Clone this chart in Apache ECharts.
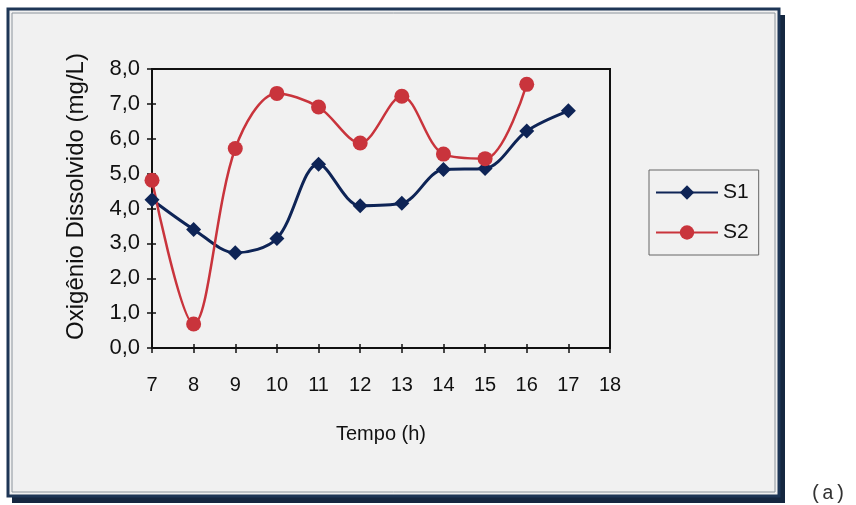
<!DOCTYPE html>
<html>
<head>
<meta charset="utf-8">
<script src="https://cdn.jsdelivr.net/npm/echarts@6/dist/echarts.min.js"></script>
<style>
html,body{margin:0;padding:0;background:#fff;}
#c{width:856px;height:505px;}
</style>
</head>
<body>
<div id="c"></div>
<script>
const hours = [7, 8, 9, 10, 11, 12, 13, 14, 15, 16, 17];
const s1 = [4.25, 3.40, 2.73, 3.14, 5.27, 4.08, 4.15, 5.12, 5.15, 6.22, 6.80];
const s2 = [4.81, 0.69, 5.72, 7.30, 6.91, 5.88, 7.22, 5.56, 5.43, 7.56];
const seriesNames = ['S1', 'S2'];
const xTitle = 'Tempo (h)';
const yTitle = 'Oxigênio Dissolvido (mg/L)';

const font = 'Liberation Sans, Arial, sans-serif';
const pairs = (vals) => vals.map((v, i) => [hours[i], v]);

const chart = echarts.init(document.getElementById('c'), null, {renderer: 'canvas'});
const xBase = {
  type: 'value', min: 7, max: 18, interval: 1, gridIndex: 0,
  splitLine: {show: false},
  axisLine: {show: true, lineStyle: {color: '#111', width: 2}}
};
const yBase = {
  type: 'value', min: 0, max: 8, interval: 1, gridIndex: 0,
  splitLine: {show: false},
  axisLine: {show: true, lineStyle: {color: '#111', width: 2}}
};
chart.setOption({
  animation: false,
  backgroundColor: '#fff',
  graphic: [
    {type: 'rect', z: -10, shape: {x: 12, y: 15, width: 773, height: 488}, style: {fill: '#152740'}},
    {type: 'rect', z: -9, shape: {x: 8, y: 9, width: 771, height: 487}, style: {fill: '#f1f1f1', stroke: '#1e3656', lineWidth: 3}},
    {type: 'rect', z: -8, shape: {x: 12, y: 13, width: 763, height: 479}, style: {fill: 'none', stroke: '#8c949c', lineWidth: 1}},
    {type: 'text', left: 810, top: 484, style: {text: '(a)', font: '20px "Liberation Mono", monospace', fill: '#333'}}
  ],
  grid: {left: 152, top: 69, right: 246, bottom: 157, show: true, borderColor: '#111', borderWidth: 2, backgroundColor: 'transparent'},
  legend: {
    orient: 'vertical', left: 649, top: 170,
    data: seriesNames,
    itemWidth: 62, itemHeight: 18, itemGap: 19,
    padding: [12, 10, 12, 6],
    borderColor: '#666', borderWidth: 1, backgroundColor: '#f1f1f1',
    textStyle: {fontFamily: font, fontSize: 21, color: '#111', lineHeight: 20}
  },
  xAxis: [
    Object.assign({}, xBase, {
      name: xTitle, nameLocation: 'middle', nameGap: 76,
      nameTextStyle: {fontFamily: font, fontSize: 20, color: '#111'},
      axisTick: {show: true, length: 5, lineStyle: {color: '#111', width: 1.5}},
      axisLabel: {margin: 27, fontFamily: font, fontSize: 20, color: '#111'}
    }),
    Object.assign({}, xBase, {
      position: 'bottom',
      axisTick: {show: true, inside: true, length: 4, lineStyle: {color: '#111', width: 1.5}},
      axisLabel: {show: false}
    })
  ],
  yAxis: [
    Object.assign({}, yBase, {
      name: yTitle, nameLocation: 'middle', nameGap: 64, nameRotate: 90,
      nameTextStyle: {fontFamily: font, fontSize: 24, color: '#111', padding: [0, 0, 0, 24]},
      axisTick: {show: true, length: 5, lineStyle: {color: '#111', width: 1.5}},
      axisLabel: {margin: 12, fontFamily: font, fontSize: 22, color: '#111', formatter: (v) => v.toFixed(1).replace('.', ',')}
    }),
    Object.assign({}, yBase, {
      position: 'left',
      axisTick: {show: true, inside: true, length: 4, lineStyle: {color: '#111', width: 1.5}},
      axisLabel: {show: false}
    })
  ],
  series: [
    {
      name: seriesNames[0], type: 'line', smooth: 0.33, data: pairs(s1),
      symbol: 'diamond', symbolSize: 15,
      lineStyle: {color: '#0e2456', width: 3},
      itemStyle: {color: '#0e2456'}
    },
    {
      name: seriesNames[1], type: 'line', smooth: 0.33, data: pairs(s2),
      symbol: 'circle', symbolSize: 15,
      lineStyle: {color: '#c9343c', width: 2.5},
      itemStyle: {color: '#c9343c'}
    }
  ]
});
</script>
</body>
</html>
